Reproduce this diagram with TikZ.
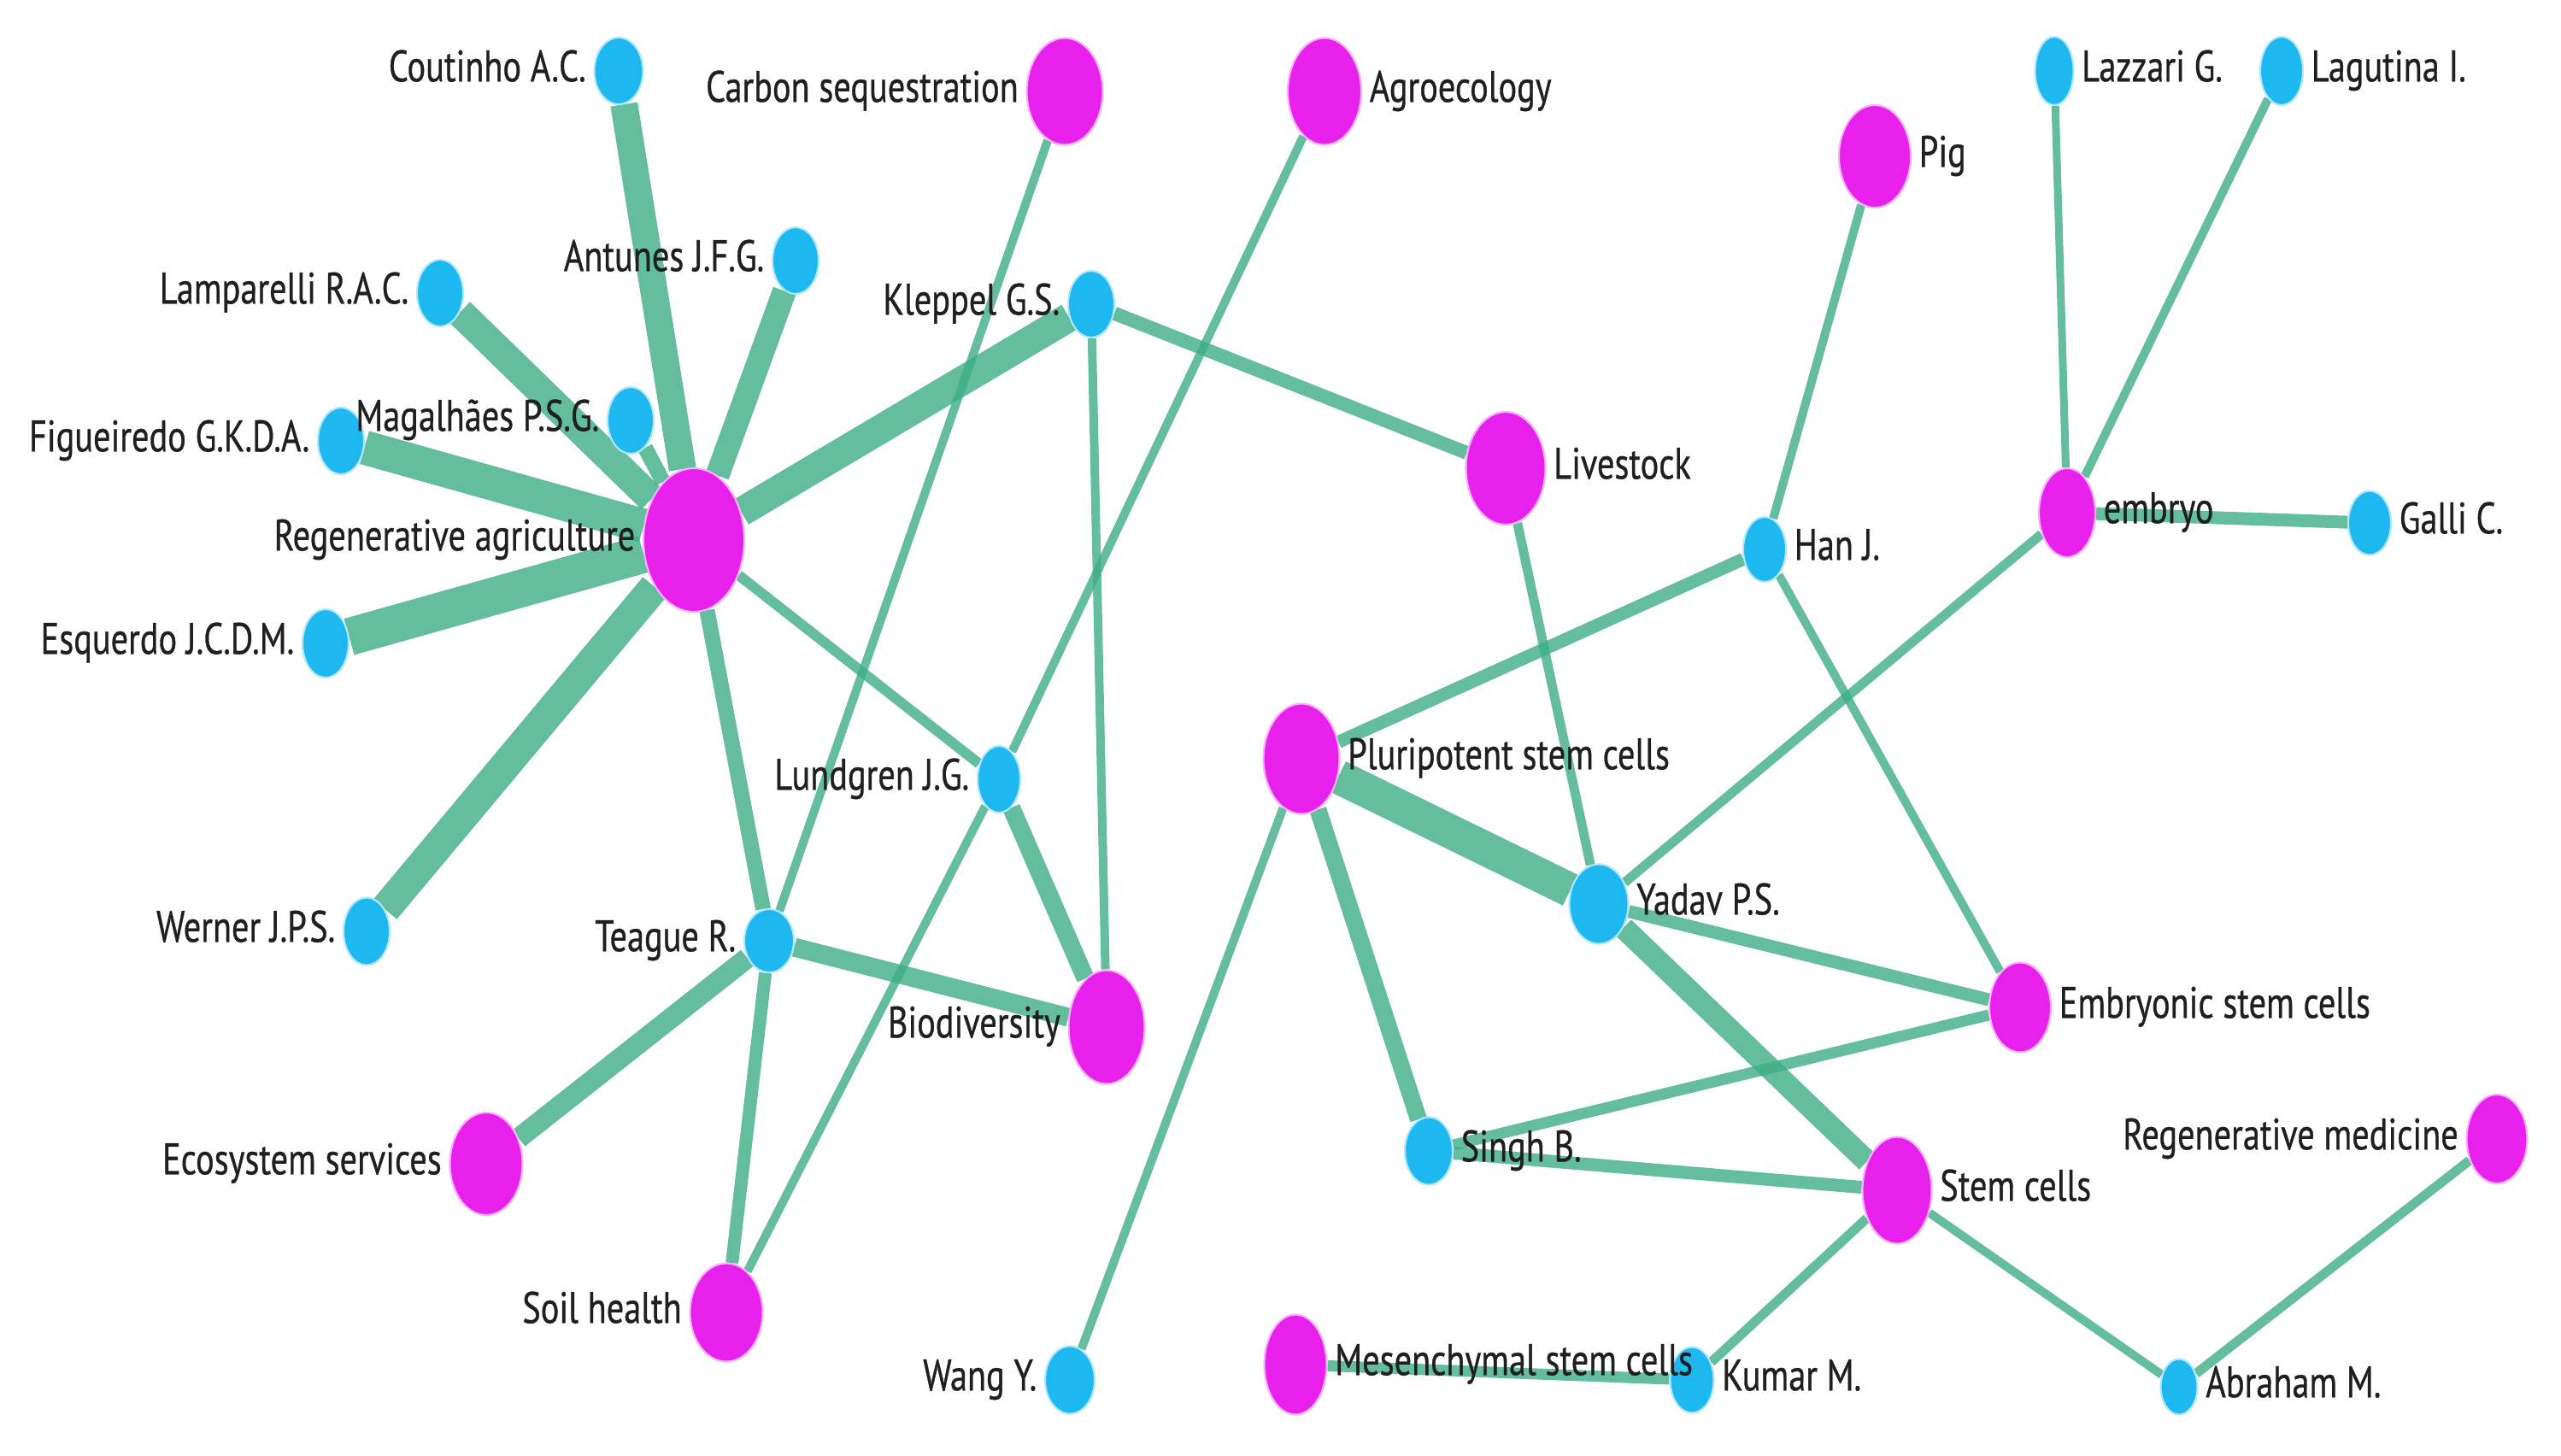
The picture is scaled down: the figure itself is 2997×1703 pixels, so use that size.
\documentclass[tikz,border=0pt]{standalone}
\usepackage{fontspec}
\setmainfont{PT Sans}[FakeStretch=0.78,FakeBold=0.6]
\usetikzlibrary{shapes.geometric}
\pgfdeclarelayer{back}
\pgfdeclarelayer{bg}
\pgfsetlayers{back,bg,main}
\definecolor{edgec}{RGB}{62,174,134}
\definecolor{mag}{RGB}{232,32,236}
\definecolor{cyanb}{RGB}{30,184,240}
\begin{document}
\begin{tikzpicture}[x=0.01cm,y=-0.01cm,
  kw/.style={ellipse, fill=mag, draw=mag!35, line width=0.6pt, inner sep=0pt},
  au/.style={ellipse, fill=cyanb, draw=cyanb!35, line width=0.6pt, inner sep=0pt},
  sz/.style 2 args={minimum width=#1*0.01cm, minimum height=#2*0.01cm},
  lbl/.style={font=\fontsize{14.7pt}{16pt}\selectfont, text=black!88, inner sep=0pt, text height=0.7em, text depth=0pt},
  every label/.style={lbl},
  label distance=0.08cm,
  ew/.style={draw=edgec, opacity=0.8, line width=#1*0.2845pt},
]
\begin{pgfonlayer}{back}
\fill[white] (0,0) rectangle (2997,1703);
\end{pgfonlayer}
\useasboundingbox (0,0) rectangle (2997,1703);

\node[kw, sz={118}{168}, label={left:Regenerative agriculture}] (ra) at (812,632) {};
\node[au, sz={57}{78}, label={left:Coutinho A.C.}] (cout) at (724,83) {};
\node[au, sz={54}{78}, label={left:Antunes J.F.G.}] (ant) at (931,305) {};
\node[au, sz={54}{78}, label={left:Lamparelli R.A.C.}] (lam) at (515,343) {};
\node[au, sz={54}{78}, label={left:Figueiredo G.K.D.A.}] (fig) at (399,516) {};
\node[au, sz={54}{78}, label={left:Magalhães P.S.G.}] (magn) at (738,492) {};
\node[au, sz={54}{80}, label={left:Esquerdo J.C.D.M.}] (esq) at (381,753) {};
\node[au, sz={54}{79}, label={left:Werner J.P.S.}] (wer) at (429,1090) {};
\node[au, sz={54}{78}, label={left:Kleppel G.S.}] (klep) at (1277,356) {};
\node[au, sz={50}{78}, label={left:Lundgren J.G.}] (lund) at (1169,912) {};
\node[au, sz={58}{74}, label={left:Teague R.}] (teag) at (900,1101) {};
\node[au, sz={58}{79}, label={left:Wang Y.}] (wang) at (1252,1615) {};
\node[kw, sz={89}{125}, label={left:Carbon sequestration}] (carb) at (1246,107) {};
\node[kw, sz={86}{125}, label={right:Agroecology}] (agro) at (1550,107) {};
\node[kw, sz={84}{120}, label={right:Pig}] (pig) at (2194,183) {};
\node[au, sz={45}{80}, label={right:Lazzari G.}] (laz) at (2404,83) {};
\node[au, sz={50}{80}, label={right:Lagutina I.}] (lag) at (2670,83) {};
\node[kw, sz={93}{132}, label={right:Livestock}] (live) at (1762,548) {};
\node[kw, sz={66}{104}, label={right:embryo}] (emb) at (2419,600) {};
\node[au, sz={50}{75}, label={right:Galli C.}] (gal) at (2773,612) {};
\node[au, sz={50}{76}, label={right:Han J.}] (han) at (2065,643) {};
\node[kw, sz={89}{129}, label={right:Pluripotent stem cells}] (plu) at (1523,888) {};
\node[au, sz={69}{93}, label={right:Yadav P.S.}] (yad) at (1871,1058) {};
\node[kw, sz={89}{133}, label={left:Biodiversity}] (bio) at (1295,1202) {};
\node[kw, sz={72}{105}, label={right:Embryonic stem cells}] (esc) at (2364,1179) {};
\node[kw, sz={85}{120}, label={left:Ecosystem services}] (eco) at (569,1362) {};
\node[au, sz={56}{79}, label={right:Singh B.}] (sing) at (1672,1347) {};
\node[kw, sz={81}{125}, label={right:Stem cells}] (stem) at (2220,1393) {};
\node[kw, sz={71}{104}, label={left:Regenerative medicine}] (rmed) at (2922,1333) {};
\node[kw, sz={85}{115}, label={left:Soil health}] (soil) at (850,1536) {};
\node[au, sz={51}{77}, label={right:Kumar M.}] (kum) at (1980,1615) {};
\node[kw, sz={73}{117}, label={right:Mesenchymal stem cells}] (mes) at (1516,1597) {};
\node[au, sz={43}{65}, label={right:Abraham M.}] (abr) at (2550,1623) {};

\begin{pgfonlayer}{bg}
\draw[ew=32] (ra) -- (cout);
\draw[ew=28] (ra) -- (ant);
\draw[ew=34] (ra) -- (lam);
\draw[ew=18] (ra) -- (magn);
\draw[ew=40] (ra) -- (fig);
\draw[ew=44] (ra) -- (esq);
\draw[ew=36] (ra) -- (wer);
\draw[ew=34] (ra) -- (klep);
\draw[ew=12] (ra) -- (lund);
\draw[ew=18] (ra) -- (teag);
\draw[ew=16] (klep) -- (live);
\draw[ew=10] (klep) -- (bio);
\draw[ew=21] (lund) -- (bio);
\draw[ew=10] (lund) -- (agro);
\draw[ew=10] (lund) -- (soil);
\draw[ew=10] (carb) -- (teag);
\draw[ew=22] (teag) -- (bio);
\draw[ew=24] (teag) -- (eco);
\draw[ew=15] (teag) -- (soil);
\draw[ew=11] (live) -- (yad);
\draw[ew=15] (plu) -- (han);
\draw[ew=40] (plu) -- (yad);
\draw[ew=20] (plu) -- (sing);
\draw[ew=10] (plu) -- (wang);
\draw[ew=10] (han) -- (pig);
\draw[ew=10] (han) -- (esc);
\draw[ew=11] (yad) -- (emb);
\draw[ew=15] (yad) -- (esc);
\draw[ew=26] (yad) -- (stem);
\draw[ew=13] (sing) -- (esc);
\draw[ew=15] (sing) -- (stem);
\draw[ew=11] (stem) -- (kum);
\draw[ew=10] (stem) -- (abr);
\draw[ew=11] (abr) -- (rmed);
\draw[ew=13] (kum) -- (mes);
\draw[ew=9] (emb) -- (laz);
\draw[ew=10] (emb) -- (lag);
\draw[ew=15] (emb) -- (gal);
\end{pgfonlayer}
\end{tikzpicture}
\end{document}
